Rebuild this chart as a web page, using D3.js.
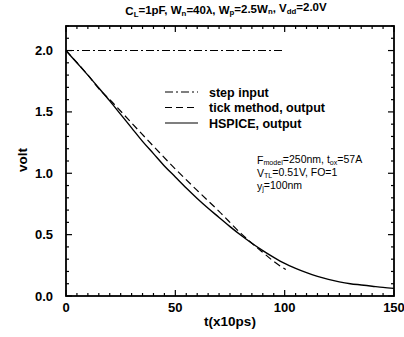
<!DOCTYPE html>
<html><head><meta charset="utf-8">
<script src="https://cdn.jsdelivr.net/npm/d3@7"></script>
<style>body{margin:0;background:#fff}svg{display:block}text{font-family:"Liberation Sans",Arial,sans-serif}</style>
</head><body>
<script>
const tValues = [0,5,10,15,20,25,30,35,40,45,50,55,60,65,70,75,80,85,90,95,100,105,110,115,120,125,130,135,140,145,150];
const hspice = [2.00,1.90,1.80,1.695,1.59,1.48,1.37,1.26,1.16,1.06,0.97,0.88,0.795,0.715,0.64,0.565,0.495,0.43,0.37,0.315,0.265,0.225,0.19,0.16,0.135,0.115,0.10,0.09,0.08,0.07,0.062];
const tickT = [0,10,16,20,30,40,50,60,70,80,85,90,95,100.5];
const tickV = [2.0,1.80,1.67,1.60,1.41,1.22,1.035,0.86,0.69,0.51,0.43,0.355,0.282,0.215];
const stepT = [0,100];
const stepV = [2.0,2.0];
const xTicks = [0,50,100,150];
const yTicks = [0,0.5,1.0,1.5,2.0];
const legendLabels = ["step input","tick method, output","HSPICE, output"];

const W=404,H=337;
const m={l:66,r:10,t:26,b:41};
const svg=d3.select("body").append("svg").attr("width",W).attr("height",H);
const x=d3.scaleLinear().domain([0,150]).range([m.l,W-m.r]);
const y=d3.scaleLinear().domain([0,2.2]).range([H-m.b,m.t]);

const line=d3.line().x(d=>x(d[0])).y(d=>y(d[1])).curve(d3.curveMonotoneX);
const g=svg.append("g");
g.append("path").datum(tValues.map((t,i)=>[t,hspice[i]])).attr("d",line).attr("fill","none").attr("stroke","#000").attr("stroke-width",1.4);
g.append("path").datum(tickT.map((t,i)=>[t,tickV[i]])).attr("d",line).attr("fill","none").attr("stroke","#000").attr("stroke-width",1.2).attr("stroke-dasharray","7,4");
g.append("path").datum(stepT.map((t,i)=>[t,stepV[i]])).attr("d",d3.line().x(d=>x(d[0])).y(d=>y(d[1]))).attr("fill","none").attr("stroke","#000").attr("stroke-width",1.1).attr("stroke-dasharray","8,3,2,3");

// axes
const xMinor=d3.range(0,151,5), yMinor=d3.range(0,2.21,0.1);
function tickLen(isMajor){return isMajor?6:3;}
const ax=svg.append("g");
xMinor.forEach(v=>{const maj=v%50===0;
  ax.append("line").attr("x1",x(v)).attr("x2",x(v)).attr("y1",y(0)).attr("y2",y(0)-tickLen(maj)).attr("stroke","#000").attr("stroke-width",1.2);
  ax.append("line").attr("x1",x(v)).attr("x2",x(v)).attr("y1",y(2.2)).attr("y2",y(2.2)+tickLen(maj)).attr("stroke","#000").attr("stroke-width",1.2);});
yMinor.forEach(v=>{const maj=Math.abs(v*2-Math.round(v*2))<1e-6;
  ax.append("line").attr("x1",x(0)).attr("x2",x(0)+tickLen(maj)).attr("y1",y(v)).attr("y2",y(v)).attr("stroke","#000").attr("stroke-width",1.2);
  ax.append("line").attr("x1",x(150)).attr("x2",x(150)-tickLen(maj)).attr("y1",y(v)).attr("y2",y(v)).attr("stroke","#000").attr("stroke-width",1.2);});
ax.append("rect").attr("x",x(0)).attr("y",y(2.2)).attr("width",x(150)-x(0)).attr("height",y(0)-y(2.2)).attr("fill","none").attr("stroke","#000").attr("stroke-width",1.8);

svg.selectAll(".xl").data(xTicks).enter().append("text").attr("x",d=>x(d)).attr("y",y(0)+16).attr("text-anchor","middle").attr("font-size",13).attr("font-weight","bold").text(d=>d);
svg.selectAll(".yl").data(yTicks).enter().append("text").attr("x",x(0)-13).attr("y",d=>y(d)+4.5).attr("text-anchor","end").attr("font-size",13).attr("font-weight","bold").text(d=>d.toFixed(1));

svg.append("text").attr("x",230).attr("y",y(0)+30).attr("text-anchor","middle").attr("font-size",13.5).attr("font-weight","bold").text("t(x10ps)");
svg.append("text").attr("transform",`translate(27,160) rotate(-90)`).attr("text-anchor","middle").attr("font-size",13.5).attr("font-weight","bold").text("volt");

function rich(t,parts){parts.forEach(p=>{const ts=t.append("tspan").text(p[0]);if(p[1]==="sub")ts.attr("font-size","0.68em").attr("dy","0.2em");else if(p[2])ts.attr("dy",p[2]);});}
const title=svg.append("text").attr("x",226).attr("y",15).attr("text-anchor","middle").attr("font-size",11.5).attr("font-weight","bold");
rich(title,[["C"],["L","sub"],["=1pF, W",0,"-0.2em"],["n","sub"],["=40λ, W",0,"-0.2em"],["p","sub"],["=2.5W",0,"-0.2em"],["n","sub"],[", V",0,"-0.2em"],["dd","sub"],["=2.0V",0,"-0.2em"]]);

// legend
const dashes=["8,3,2,3","7,4",null];
legendLabels.forEach((l,i)=>{const ly=92+i*15.5;
  const ln=svg.append("line").attr("x1",165).attr("x2",198).attr("y1",ly).attr("y2",ly).attr("stroke","#000").attr("stroke-width",1.2);
  if(dashes[i])ln.attr("stroke-dasharray",dashes[i]);
  svg.append("text").attr("x",209).attr("y",ly+4.5).attr("font-size",12.5).attr("font-weight","bold").text(l);});

// annotation
const ann=[[["F"],["model","sub"],["=250nm, t",0,"-0.2em"],["ox","sub"],["=57A",0,"-0.2em"]],[["V"],["TL","sub"],["=0.51V, FO=1",0,"-0.2em"]],[["y"],["j","sub"],["=100nm",0,"-0.2em"]]];
ann.forEach((a,i)=>{const t=svg.append("text").attr("x",257).attr("y",164+i*13).attr("font-size",10.5);rich(t,a);});
</script>
</body></html>
